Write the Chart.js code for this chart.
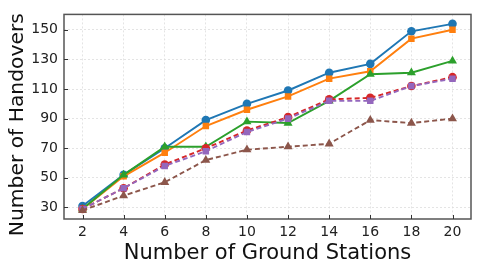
<!DOCTYPE html>
<html lang="en">
<head>
<meta charset="UTF-8">
<script src="https://cdn.jsdelivr.net/npm/chart.js@4.4.0/dist/chart.umd.min.js"></script>
<title>Handovers</title>
<style>
  html, body { margin: 0; padding: 0; background: #fff; }
  #wrap { width: 478px; height: 269px; }
</style>
</head>
<body>
<div id="wrap"><canvas id="chart"></canvas></div>
<script>
const stations = [2, 4, 6, 8, 10, 12, 14, 16, 18, 20];
const yTicks = [30, 50, 70, 90, 110, 130, 150];

const blueVals   = [31, 52, 70, 89, 100, 109, 121, 127, 149, 154];
const orangeVals = [29, 51, 67, 85, 96, 105, 117, 122, 144, 150];
const greenVals  = [29, 52, 71, 71, 88, 87, 102, 120, 121, 129];
const redVals    = [29, 43, 59, 70, 82, 91, 103, 104, 112, 118];
const purpleVals = [29, 43, 58, 68, 81, 90, 102, 102, 112, 117];
const brownVals  = [28, 38, 47, 62, 69, 71, 73, 89, 87, 90];

const yTitle = 'Number of Handovers';
const font = "'DejaVu Sans', sans-serif";
const radii = { circle: 4.3, rect: 4.6, triangle: 5.2 };

function series(vals, color, style, dashed, order) {
  return {
    data: vals.map((v, i) => ({ x: stations[i], y: v })),
    borderColor: color,
    backgroundColor: color,
    borderWidth: 1.9,
    borderDash: dashed ? [5, 3] : [],
    pointStyle: style,
    pointRadius: radii[style],
    pointBorderWidth: 0,
    order: order,
    tension: 0
  };
}

// frame + inward tick marks + y label, like the matplotlib look
const frame = {
  id: 'frame',
  afterDraw(chart) {
    const { ctx, chartArea: a, scales } = chart;
    ctx.save();
    ctx.strokeStyle = '#555';
    ctx.lineWidth = 1.5;
    ctx.strokeRect(a.left, a.top, a.right - a.left, a.bottom - a.top);
    ctx.lineWidth = 1;
    ctx.strokeStyle = '#333';
    ctx.beginPath();
    stations.forEach(v => {
      const x = Math.round(scales.x.getPixelForValue(v)) + 0.5;
      ctx.moveTo(x, a.bottom);
      ctx.lineTo(x, a.bottom - 4);
    });
    yTicks.forEach(v => {
      const y = Math.round(scales.y.getPixelForValue(v)) + 0.5;
      ctx.moveTo(a.left, y);
      ctx.lineTo(a.left + 4, y);
    });
    ctx.stroke();

    ctx.translate(18, (a.top + a.bottom) / 2 + 8);
    ctx.rotate(-Math.PI / 2);
    ctx.fillStyle = '#111';
    ctx.font = "20.3px 'DejaVu Sans', sans-serif";
    ctx.textAlign = 'center';
    ctx.textBaseline = 'middle';
    ctx.fillText(yTitle, 0, 0);
    ctx.restore();
  }
};

new Chart(document.getElementById('chart'), {
  type: 'line',
  data: {
    datasets: [
      series(blueVals, '#1f77b4', 'circle', false, 6),
      series(orangeVals, '#ff7f0e', 'rect', false, 5),
      series(greenVals, '#2ca02c', 'triangle', false, 4),
      series(redVals, '#d62728', 'circle', true, 3),
      series(purpleVals, '#9467bd', 'rect', true, 2),
      series(brownVals, '#8c564b', 'triangle', true, 1)
    ]
  },
  options: {
    responsive: true,
    maintainAspectRatio: false,
    animation: false,
    layout: { padding: { top: 6, right: 7, left: 0, bottom: 0 } },
    plugins: { legend: { display: false }, tooltip: { enabled: false } },
    scales: {
      x: {
        type: 'linear',
        min: 1.1,
        max: 20.9,
        afterBuildTicks: s => { s.ticks = stations.map(v => ({ value: v })); },
        afterFit: s => { s.height = 50; },
        grid: { color: '#dedede', lineWidth: 0.8, drawTicks: false },
        border: { display: false, dash: [2, 2] },
        ticks: { color: '#222', font: { family: font, size: 14 }, padding: 5, maxRotation: 0 },
        title: { display: true, text: 'Number of Ground Stations', color: '#111',
                 font: { family: font, size: 21 }, padding: { top: 0, bottom: 3 } }
      },
      y: {
        min: 22.2,
        max: 160.4,
        afterBuildTicks: s => { s.ticks = yTicks.map(v => ({ value: v })); },
        afterFit: s => { s.width = 64; },
        grid: { color: '#dedede', lineWidth: 0.8, drawTicks: false },
        border: { display: false, dash: [2, 2] },
        ticks: { color: '#222', font: { family: font, size: 14 }, padding: 6 },
        title: { display: false }
      }
    }
  },
  plugins: [frame]
});
</script>
</body>
</html>
